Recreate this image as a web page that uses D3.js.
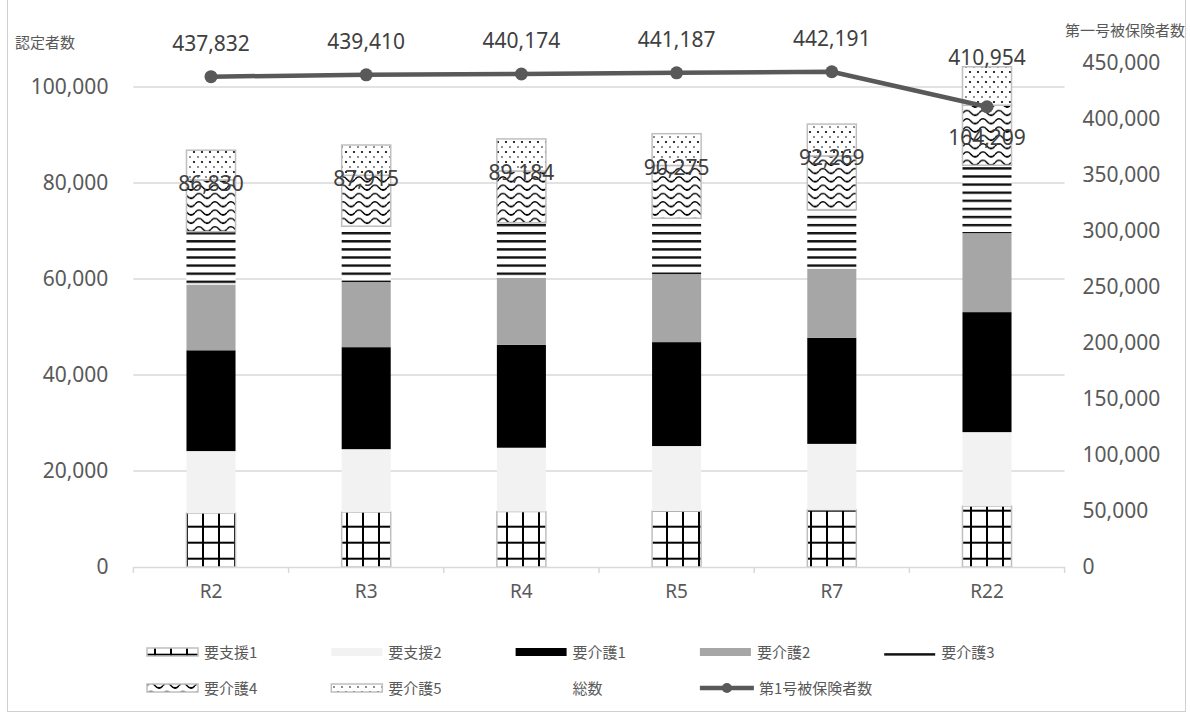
<!DOCTYPE html>
<html><head><meta charset="utf-8">
<script src="https://cdn.jsdelivr.net/npm/d3@7"></script>
<style>body{margin:0;background:#fff}svg{display:block}</style>
</head><body><svg id="c" width="1190" height="716"></svg>
<script>
const categories = ["R2","R3","R4","R5","R7","R22"];
const seriesNames = ["要支援1","要支援2","要介護1","要介護2","要介護3","要介護4","要介護5"];
const shien1 = [11250,11450,11550,11650,11900,12700];
const shien2 = [12900,13100,13300,13550,13750,15400];
const kaigo1 = [21000,21250,21450,21650,22100,25000];
const kaigo2 = [13700,13550,13950,14150,14400,16450];
const kaigo3 = [11000,11650,11450,11650,12300,14150];
const kaigo4 = [10800,10600,10800,11000,11200,12500];
const kaigo5 = [6180,6315,6684,6625,6619,8009];
const totals = [86830,87915,89184,90275,92269,104209];
const insured = [437832,439410,440174,441187,442191,410954];
const leftTicks = [0,20000,40000,60000,80000,100000];
const rightTicks = [0,50000,100000,150000,200000,250000,300000,350000,400000,450000];
const leftTitle = "認定者数";
const rightTitle = "第一号被保険者数";
const totalName = "総数";
const lineName = "第1号被保険者数";

const seriesValues = [shien1,shien2,kaigo1,kaigo2,kaigo3,kaigo4,kaigo5];
const rows = categories.map((c,i)=>{const o={cat:c};seriesNames.forEach((s,k)=>o[s]=seriesValues[k][i]);return o;});

const svg = d3.select("#c");
const FONT = "'Noto Sans','Noto Sans CJK JP',sans-serif";
const JP = "'Noto Sans CJK JP','Noto Sans',sans-serif";
const plot = {l:133.4, r:1064.6, t:63, b:567};

const x = d3.scaleBand().domain(categories).range([plot.l, plot.r]).paddingInner(0.684).paddingOuter(0.342);
const yL = d3.scaleLinear().domain([0,100000]).range([plot.b, 87]);
const yR = d3.scaleLinear().domain([0,450000]).range([plot.b, plot.t]);

// patterns
const defs = svg.append("defs");
const pGrid = defs.append("pattern").attr("id","pGrid").attr("patternUnits","userSpaceOnUse").attr("x",10).attr("y",13.7).attr("width",16).attr("height",16);
pGrid.append("rect").attr("width",16).attr("height",16).attr("fill","#fff");
pGrid.append("rect").attr("width",2).attr("height",16).attr("fill","#000");
pGrid.append("rect").attr("width",16).attr("height",2).attr("fill","#000");

const pHor = defs.append("pattern").attr("id","pHor").attr("patternUnits","userSpaceOnUse").attr("x",0).attr("y",5.2).attr("width",8).attr("height",8.1);
pHor.append("rect").attr("width",8).attr("height",8.1).attr("fill","#fff");
pHor.append("rect").attr("width",8).attr("height",2.4).attr("fill","#111");

const pWave = defs.append("pattern").attr("id","pWave").attr("patternUnits","userSpaceOnUse").attr("x",3).attr("y",0).attr("width",16).attr("height",8.3);
pWave.append("rect").attr("width",16).attr("height",8.3).attr("fill","#fff");
pWave.append("path").attr("d","M0,5 Q4,0 8,5 Q12,10 16,5").attr("fill","none").attr("stroke","#000").attr("stroke-width",1.5);
pWave.append("circle").attr("cx",12).attr("cy",7.3).attr("r",1.0).attr("fill","#000");

const pDot = defs.append("pattern").attr("id","pDot").attr("patternUnits","userSpaceOnUse").attr("x",0).attr("y",0).attr("width",8).attr("height",10);
pDot.append("rect").attr("width",8).attr("height",10).attr("fill","#fff");
pDot.append("circle").attr("cx",2).attr("cy",2).attr("r",1.1).attr("fill","#000");
pDot.append("circle").attr("cx",6).attr("cy",7).attr("r",0.8).attr("fill","#000");

const fills = {"要支援1":"url(#pGrid)","要支援2":"#f2f2f2","要介護1":"#000","要介護2":"#a6a6a6","要介護3":"url(#pHor)","要介護4":"url(#pWave)","要介護5":"url(#pDot)"};
const borders = {"要支援1":"#bfbfbf","要介護4":"#bfbfbf","要介護5":"#bfbfbf"};

// frame
svg.append("rect").attr("x",7.5).attr("y",-2).attr("width",1178).attr("height",713.5).attr("fill","none").attr("stroke","#d0d0d0").attr("stroke-width",1);

// gridlines
svg.append("g").selectAll("line").data(leftTicks.slice(1)).join("line")
  .attr("x1",plot.l).attr("x2",plot.r).attr("y1",d=>yL(d)).attr("y2",d=>yL(d))
  .attr("stroke","#d9d9d9").attr("stroke-width",1.5);

// left axis
const gL = svg.append("g").attr("transform",`translate(${plot.l},0)`)
  .call(d3.axisLeft(yL).tickValues(leftTicks).tickFormat(d3.format(",")).tickSize(0).tickPadding(25));
gL.select(".domain").remove();
gL.selectAll("text").attr("font-family",FONT).attr("font-size",21).attr("fill","#595959");

// right axis
const gR = svg.append("g").attr("transform",`translate(${plot.r},0)`)
  .call(d3.axisRight(yR).tickValues(rightTicks).tickFormat(d3.format(",")).tickSize(0).tickPadding(18));
gR.select(".domain").remove();
gR.selectAll("text").attr("font-family",FONT).attr("font-size",21).attr("fill","#595959");

// bars
const stack = d3.stack().keys(seriesNames)(rows);
const gb = svg.append("g");
stack.forEach(s=>{
  gb.append("g").selectAll("rect").data(s).join("rect")
    .attr("x",d=>x(d.data.cat)).attr("width",x.bandwidth())
    .attr("y",d=>yL(d[1])).attr("height",d=>yL(d[0])-yL(d[1]))
    .attr("fill",fills[s.key])
    .attr("stroke",borders[s.key]||"none").attr("stroke-width",1.5);
});

// x axis
const gX = svg.append("g").attr("transform",`translate(0,${plot.b})`)
  .call(d3.axisBottom(x).tickSize(0).tickPadding(18));
gX.select(".domain").attr("stroke","#d9d9d9").attr("stroke-width",1.5);
gX.selectAll("text").attr("font-family",FONT).attr("font-size",19).attr("fill","#595959");
svg.append("g").selectAll("line").data(d3.range(categories.length+1)).join("line")
  .attr("x1",i=>plot.l+i*x.step()).attr("x2",i=>plot.l+i*x.step())
  .attr("y1",plot.b).attr("y2",plot.b+6).attr("stroke","#d9d9d9").attr("stroke-width",1.5);

// total labels
const last = categories.length-1;
svg.append("g").selectAll("text").data(totals).join("text")
  .attr("x",(d,i)=>x(categories[i])+x.bandwidth()/2)
  .attr("y",(d,i)=>yL(d)+(i===last?78:41))
  .attr("text-anchor","middle").attr("font-family",FONT).attr("font-size",21).attr("fill","#404040")
  .text(d=>d3.format(",")(d));

// line
const cx = (d,i)=>x(categories[i])+x.bandwidth()/2;
svg.append("path").datum(insured)
  .attr("d",d3.line().x(cx).y(d=>yR(d)))
  .attr("fill","none").attr("stroke","#595959").attr("stroke-width",4.5).attr("stroke-linejoin","round");
svg.append("g").selectAll("circle").data(insured).join("circle")
  .attr("cx",cx).attr("cy",d=>yR(d)).attr("r",6.5).attr("fill","#595959");
svg.append("g").selectAll("text").data(insured).join("text")
  .attr("x",cx).attr("y",(d,i)=>yR(d)+(i===last?-42:-26))
  .attr("text-anchor","middle").attr("font-family",FONT).attr("font-size",21).attr("fill","#404040")
  .text(d=>d3.format(",")(d));

// axis titles
svg.append("text").attr("x",15).attr("y",48).attr("font-family",JP).attr("font-size",15).attr("fill","#595959").text(leftTitle);
svg.append("text").attr("x",1185).attr("y",36).attr("text-anchor","end").attr("font-family",JP).attr("font-size",15).attr("fill","#595959").text(rightTitle);

// legend
const legendItems = seriesNames.map(n=>({name:n,type:"box"})).concat([{name:totalName,type:"none"},{name:lineName,type:"line"}]);
const lg = svg.append("g");
legendItems.forEach((it,i)=>{
  const col=i%5,row=Math.floor(i/5);
  const lx=147+col*184.3, ly=652+row*36;
  if(it.type==="box"){
    lg.append("rect").attr("x",lx).attr("y",ly-4).attr("width",51).attr("height",8)
      .attr("fill",fills[it.name]).attr("stroke",borders[it.name]||"none").attr("stroke-width",1.5);
  } else if(it.type==="line"){
    lg.append("line").attr("x1",lx).attr("x2",lx+54).attr("y1",ly).attr("y2",ly).attr("stroke","#595959").attr("stroke-width",4.5);
    lg.append("circle").attr("cx",lx+27).attr("cy",ly).attr("r",5).attr("fill","#595959");
  }
  lg.append("text").attr("x",lx+57+(it.type==="line"?2:0)).attr("y",ly+5.5).attr("font-family",JP).attr("font-size",15).attr("fill","#595959").text(it.name);
});
</script></body></html>
